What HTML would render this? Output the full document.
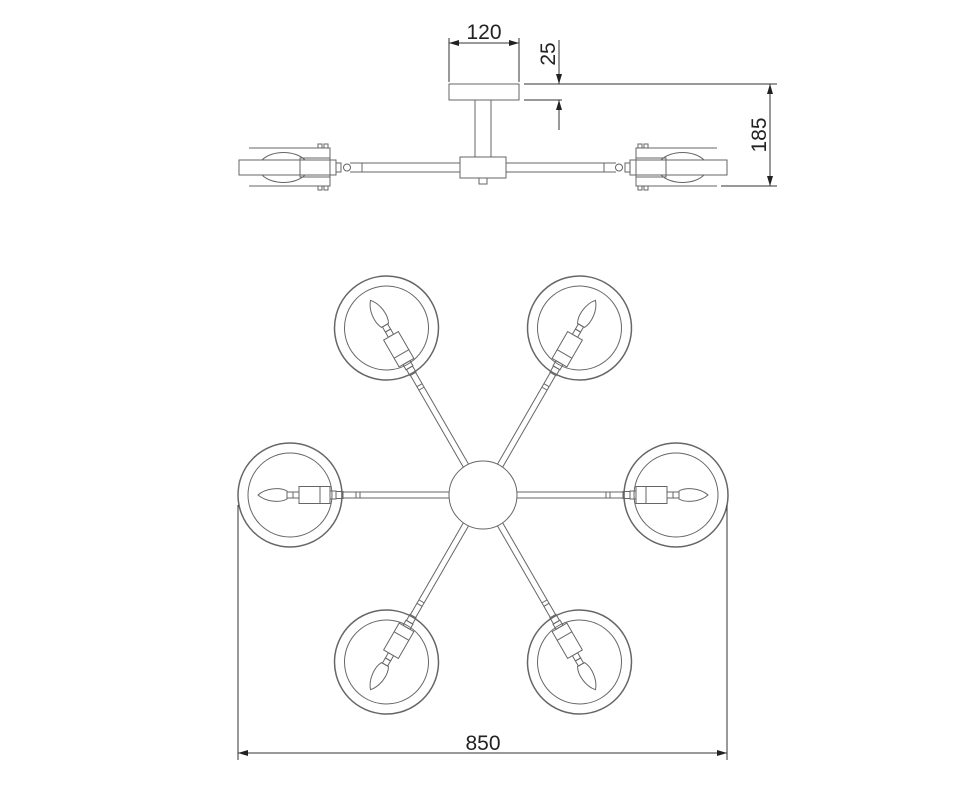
<!DOCTYPE html>
<html><head><meta charset="utf-8"><style>
html,body{margin:0;padding:0;background:#fff;}
svg{display:block;}
text{font-family:"Liberation Sans Narrow","Liberation Sans",sans-serif;fill:#222;}
</style></head><body>
<svg width="978" height="800" viewBox="0 0 978 800" xmlns="http://www.w3.org/2000/svg">
<defs>
<g id="lamp" fill="none" stroke="#666" stroke-width="1">
  <circle r="52" stroke-width="1.5"/>
  <circle r="42"/>
  <path d="M-32,0 C-24,-7 -10,-8 -3,-4 L-3,4 C-10,8 -24,7 -32,0 Z"/>
  <rect x="-3" y="-3" width="6" height="6"/>
  <rect x="3" y="-3" width="6" height="6"/>
  <rect x="9" y="-8.5" width="31" height="17" fill="#fff"/>
  <line x1="30" y1="-8.5" x2="30" y2="8.5"/>
  <rect x="40" y="-4" width="6" height="8"/>
  <rect x="46" y="-3.5" width="7" height="7"/>
  <line x1="53" y1="-3" x2="159" y2="-3"/>
  <line x1="53" y1="3" x2="159" y2="3"/>
  <line x1="66" y1="-3" x2="66" y2="3"/>
  <line x1="70" y1="-3" x2="70" y2="3"/>
</g>
<marker id="ar" viewBox="0 0 10 10" refX="10" refY="5" markerWidth="10" markerHeight="10" orient="auto-start-reverse" markerUnits="userSpaceOnUse">
  <path d="M0,2 L10,5 L0,8 Z" fill="#222"/>
</marker>
</defs>

<!-- TOP VIEW -->
<g fill="none" stroke="#666" stroke-width="1">
  <rect x="449" y="84" width="70" height="16"/>
  <rect x="475" y="100" width="16" height="57"/>
  <rect x="460" y="157" width="46" height="21" fill="#fff"/>
  <rect x="479" y="178" width="8" height="6"/>
  <line x1="350" y1="163" x2="460" y2="163"/><line x1="350" y1="172" x2="460" y2="172"/>
  <line x1="506" y1="163" x2="616" y2="163"/><line x1="506" y1="172" x2="616" y2="172"/>
  <line x1="362" y1="163" x2="362" y2="172"/><line x1="604" y1="163" x2="604" y2="172"/>
  <rect x="239" y="160" width="97" height="15"/>
  <path d="M262,160 C272,150 295,150 305,160 M262,175 C272,185 295,185 305,175"/>
  <rect x="300" y="158" width="30" height="19"/>
  <line x1="249" y1="148" x2="330" y2="148"/>
  <line x1="249" y1="186" x2="330" y2="186"/>
  <path d="M316,148 L330,148 L330,186 L316,186"/>
  <rect x="318" y="144" width="4" height="4"/><rect x="324" y="144" width="4" height="4"/>
  <rect x="318" y="186" width="4" height="4"/><rect x="324" y="186" width="4" height="4"/>
  <rect x="336" y="163" width="5" height="9"/><circle cx="347" cy="167.5" r="3.5"/>
  <rect x="630" y="160" width="97" height="15"/>
  <path d="M704,160 C694,150 671,150 661,160 M704,175 C694,185 671,185 661,175"/>
  <rect x="636" y="158" width="30" height="19"/>
  <line x1="636" y1="148" x2="717" y2="148"/>
  <line x1="636" y1="186" x2="717" y2="186"/>
  <path d="M650,148 L636,148 L636,186 L650,186"/>
  <rect x="638" y="144" width="4" height="4"/><rect x="644" y="144" width="4" height="4"/>
  <rect x="638" y="186" width="4" height="4"/><rect x="644" y="186" width="4" height="4"/>
  <rect x="625" y="163" width="5" height="9"/><circle cx="619" cy="167.5" r="3.5"/>
</g>

<g stroke="#333" stroke-width="1" fill="none">
  <line x1="449" y1="38" x2="449" y2="82"/>
  <line x1="519" y1="38" x2="519" y2="82"/>
  <line x1="449" y1="43" x2="519" y2="43" marker-start="url(#ar)" marker-end="url(#ar)"/>
  <line x1="524" y1="84" x2="777" y2="84"/>
  <line x1="524" y1="100" x2="562" y2="100"/>
  <line x1="559" y1="40" x2="559" y2="84" marker-end="url(#ar)"/>
  <line x1="559" y1="130" x2="559" y2="100" marker-end="url(#ar)"/>
  <line x1="721" y1="186" x2="777" y2="186"/>
  <line x1="770" y1="84" x2="770" y2="186" marker-start="url(#ar)" marker-end="url(#ar)"/>
</g>
<text x="484" y="39" font-size="21" text-anchor="middle">120</text>
<text transform="translate(555,54) rotate(-90)" font-size="21" text-anchor="middle">25</text>
<text transform="translate(766,135) rotate(-90)" font-size="21" text-anchor="middle">185</text>

<use href="#lamp" transform="translate(290,495)"/>
<use href="#lamp" transform="translate(676,495) rotate(180)"/>
<use href="#lamp" transform="translate(386.5,328) rotate(60)"/>
<use href="#lamp" transform="translate(579.5,328) rotate(120)"/>
<use href="#lamp" transform="translate(386.5,662) rotate(-60)"/>
<use href="#lamp" transform="translate(579.5,662) rotate(-120)"/>
<circle cx="483" cy="495" r="34" fill="#fff" stroke="#666" stroke-width="1"/>

<g stroke="#333" stroke-width="1" fill="none">
  <line x1="238" y1="505" x2="238" y2="760"/>
  <line x1="727" y1="505" x2="727" y2="760"/>
  <line x1="238" y1="753" x2="727" y2="753" marker-start="url(#ar)" marker-end="url(#ar)"/>
</g>
<text x="483" y="750" font-size="21" text-anchor="middle">850</text>
</svg>
</body></html>
